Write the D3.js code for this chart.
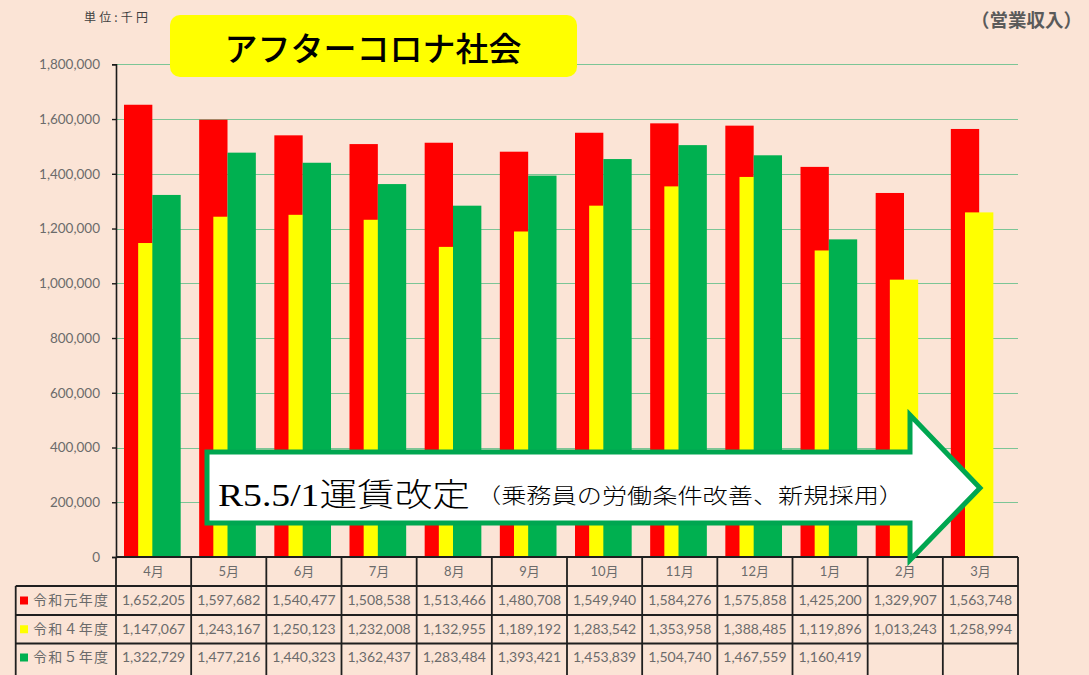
<!DOCTYPE html>
<html><head><meta charset="utf-8">
<script src="https://cdn.jsdelivr.net/npm/d3@7"></script>
<style>
html,body{margin:0;padding:0;background:#fbe4d6;}
svg{display:block;}
</style></head>
<body>
<svg id="chart" width="1089" height="675"></svg>
<script>
const months = ["4月","5月","6月","7月","8月","9月","10月","11月","12月","1月","2月","3月"];
const seriesNames = ["令和元年度","令和４年度","令和５年度"];
const seriesColors = ["#ff0000","#ffff00","#00b050"];
const r1 = [1652205,1597682,1540477,1508538,1513466,1480708,1549940,1584276,1575858,1425200,1329907,1563748];
const r4 = [1147067,1243167,1250123,1232008,1132955,1189192,1283542,1353958,1388485,1119896,1013243,1258994];
const r5 = [1322729,1477216,1440323,1362437,1283484,1393421,1453839,1504740,1467559,1160419,null,null];
const yTicks = [0,200000,400000,600000,800000,1000000,1200000,1400000,1600000,1800000];
const titleText = "アフターコロナ社会";
const unitText = "単位:千円";
const cornerText = "（営業収入）";
const arrowMain = "R5.5/1運賃改定";
const arrowSub = "（乗務員の労働条件改善、新規採用）";

(function(){
const series = [r1, r4, r5];
const svg = d3.select("#chart");
const bg = "#fbe4d6";
svg.append("rect").attr("width",1089).attr("height",675).attr("fill",bg);

const pLeft = 116, pRight = 1018, pTop = 64.3, pBase = 557;
const x = d3.scaleBand().domain(months).range([pLeft, pRight]).padding(0);
const y = d3.scaleLinear().domain([0, 1800000]).range([pBase, pTop]);
const bw = x.bandwidth();
const barW = bw * 0.377;
const off = barW / 2;
const startOff = 8;

svg.append("g").selectAll("line").data(yTicks.filter(d=>d>0)).join("line")
  .attr("x1", pLeft).attr("x2", pRight)
  .attr("y1", d=>Math.round(y(d))+0.5).attr("y2", d=>Math.round(y(d))+0.5)
  .attr("stroke", "#7cc596").attr("stroke-width", 1.2);

series.forEach((vals, si) => {
  svg.append("g").selectAll("rect").data(months.map((m,i)=>({m, v: vals[i]})).filter(d=>d.v!=null)).join("rect")
    .attr("x", d => x(d.m) + startOff + si*off)
    .attr("width", barW)
    .attr("y", d => y(d.v))
    .attr("height", d => pBase - y(d.v))
    .attr("fill", seriesColors[si]);
});

const yAxis = d3.axisLeft(y).tickValues(yTicks).tickFormat(d3.format(",")).tickSize(4).tickPadding(12);
const ga = svg.append("g").attr("transform", `translate(${pLeft},0)`).call(yAxis);
ga.select(".domain").attr("stroke", "#1a1a1a").attr("stroke-width", 1.6);
ga.selectAll(".tick line").attr("stroke", "#1a1a1a").attr("stroke-width", 1.4);
ga.selectAll(".tick text").attr("fill", "#6b6b6b").attr("font-family","Lato, 'Open Sans', sans-serif").attr("font-size", 13.5);

const rowY = [557, 586, 615, 643.5, 680];
const tableLeft = 15.7;
const tbl = svg.append("g");
const lineC = "#1f1f1f";
tbl.append("line").attr("x1", pLeft).attr("x2", pRight).attr("y1", rowY[0]).attr("y2", rowY[0]).attr("stroke", lineC).attr("stroke-width", 1.8);
[1,2,3].forEach(k=>{
  tbl.append("line").attr("x1", tableLeft).attr("x2", pRight).attr("y1", rowY[k]).attr("y2", rowY[k]).attr("stroke", lineC).attr("stroke-width", 1.8);
});
const vx = months.map(m=>x(m)).concat([pRight]);
vx.forEach(v=>{
  tbl.append("line").attr("x1", v).attr("x2", v).attr("y1", rowY[0]).attr("y2", rowY[4]).attr("stroke", lineC).attr("stroke-width", 1.8);
});
tbl.append("line").attr("x1", tableLeft).attr("x2", tableLeft).attr("y1", rowY[1]).attr("y2", rowY[4]).attr("stroke", lineC).attr("stroke-width", 1.8);

const tf = "Lato, 'Noto Sans CJK JP', sans-serif";
tbl.selectAll("text.mh").data(months).join("text").attr("class","mh")
  .attr("x", d=>x(d)+bw/2).attr("y", (rowY[0]+rowY[1])/2+1)
  .attr("text-anchor","middle").attr("dominant-baseline","middle")
  .attr("font-family", tf).attr("font-size", 13).attr("fill", "#6b6b6b").text(d=>d);
series.forEach((vals, si) => {
  const cy = si < 2 ? (rowY[si+1]+rowY[si+2])/2 + 1 : rowY[3] + 15;
  tbl.append("rect").attr("x", 20).attr("y", cy-5).attr("width", 8).attr("height", 8).attr("fill", seriesColors[si]);
  tbl.append("text").attr("x", 33).attr("y", cy).attr("dominant-baseline","middle")
    .attr("font-family", "'Noto Sans CJK JP', sans-serif").attr("font-size", 14).attr("fill", "#6b6b6b")
    .attr("textLength", 75).attr("lengthAdjust","spacing")
    .text(seriesNames[si]);
  tbl.append("g").selectAll("text").data(months.map((m,i)=>({m, v: vals[i]})).filter(d=>d.v!=null)).join("text")
    .attr("x", d=>x(d.m)+bw/2).attr("y", cy)
    .attr("text-anchor","middle").attr("dominant-baseline","middle")
    .attr("font-family", tf).attr("font-size", 14).attr("fill", "#6b6b6b")
    .text(d=>d3.format(",")(d.v));
});

svg.append("text").attr("x", 84).attr("y", 22).attr("font-family","'Noto Sans CJK JP', sans-serif")
  .attr("font-size", 12).attr("fill", "#404040")
  .attr("textLength", 64).attr("lengthAdjust","spacing").text(unitText);
svg.append("text").attr("x", 1082).attr("y", 27).attr("text-anchor","end")
  .attr("font-family","'Noto Sans CJK JP', sans-serif").attr("font-weight", 700)
  .attr("font-size", 18.5).attr("fill", "#5a5a5a").text(cornerText);

svg.append("rect").attr("x", 170).attr("y", 15).attr("width", 407).attr("height", 62).attr("rx", 10)
  .attr("fill", "#ffff00");
svg.append("text").attr("x", 373).attr("y", 47).attr("text-anchor","middle").attr("dominant-baseline","central")
  .attr("font-family","'Noto Sans CJK JP', sans-serif").attr("font-weight", 500)
  .attr("font-size", 33).attr("fill", "#000").text(titleText);

const ax0 = 207, ayT = 452, ayB = 523, ahx = 910, ahT = 415, ahB = 560, tipX = 980, tipY = 488;
const pts = [[ax0,ayT],[ahx,ayT],[ahx,ahT],[tipX,tipY],[ahx,ahB],[ahx,ayB],[ax0,ayB]];
svg.append("path").attr("d", "M" + pts.map(p=>p.join(",")).join("L") + "Z")
  .attr("fill", "#ffffff").attr("stroke", "#00a650").attr("stroke-width", 5).attr("stroke-linejoin","miter");
svg.append("text").attr("x", 218).attr("y", 506)
  .attr("font-family","'Liberation Serif', 'Noto Sans CJK JP', serif").attr("font-weight", 300)
  .attr("font-size", 32).attr("fill", "#000")
  .attr("textLength", 252).attr("lengthAdjust","spacingAndGlyphs").text(arrowMain);
svg.append("text").attr("x", 476).attr("y", 503)
  .attr("font-family","'Liberation Serif', 'Noto Sans CJK JP', serif").attr("font-weight", 300)
  .attr("font-size", 21).attr("fill", "#000")
  .attr("textLength", 428).attr("lengthAdjust","spacingAndGlyphs").text(arrowSub);
})();
</script>
</body></html>
